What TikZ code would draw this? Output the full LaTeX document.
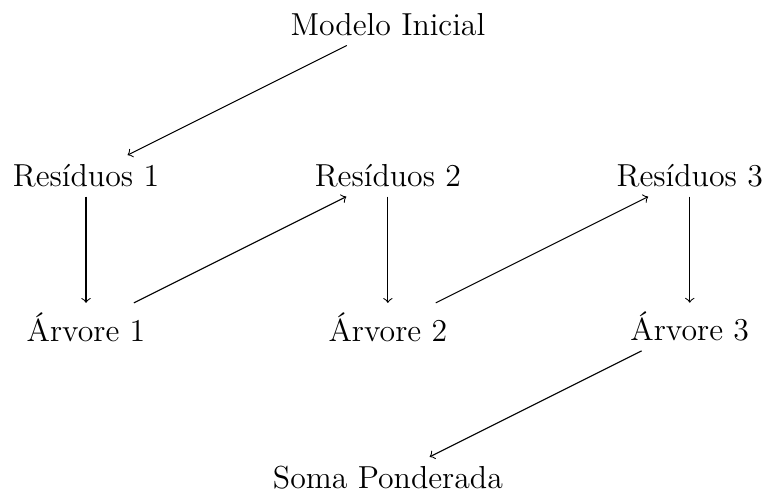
\documentclass[tikz,border=0pt]{standalone}
\usepackage{fontspec}
\begin{document}
\begin{tikzpicture}[
  box/.style={font=\large},
  link/.style={->}
]
\useasboundingbox (-5.14,0.33) rectangle (5.01,-6.24);
\node[box] (m)  at (0,0)   {Modelo Inicial};
\node[box] (r1) at (-4,-2) {Resíduos 1};
\node[box] (r2) at (0,-2)  {Resíduos 2};
\node[box] (r3) at (4,-2)  {Resíduos 3};
\node[box] (a1) at (-4,-4) {Árvore 1};
\node[box] (a2) at (0,-4)  {Árvore 2};
\node[box] (a3) at (4,-4)  {Árvore 3};
\node[box] (s)  at (0,-6)  {Soma Ponderada};
\draw[link] (m) -- (r1);
\draw[link] (r1) -- (a1);
\draw[link] (a1) -- (r2);
\draw[link] (r2) -- (a2);
\draw[link] (a2) -- (r3);
\draw[link] (r3) -- (a3);
\draw[link] (a3) -- (s);
\end{tikzpicture}
\end{document}
